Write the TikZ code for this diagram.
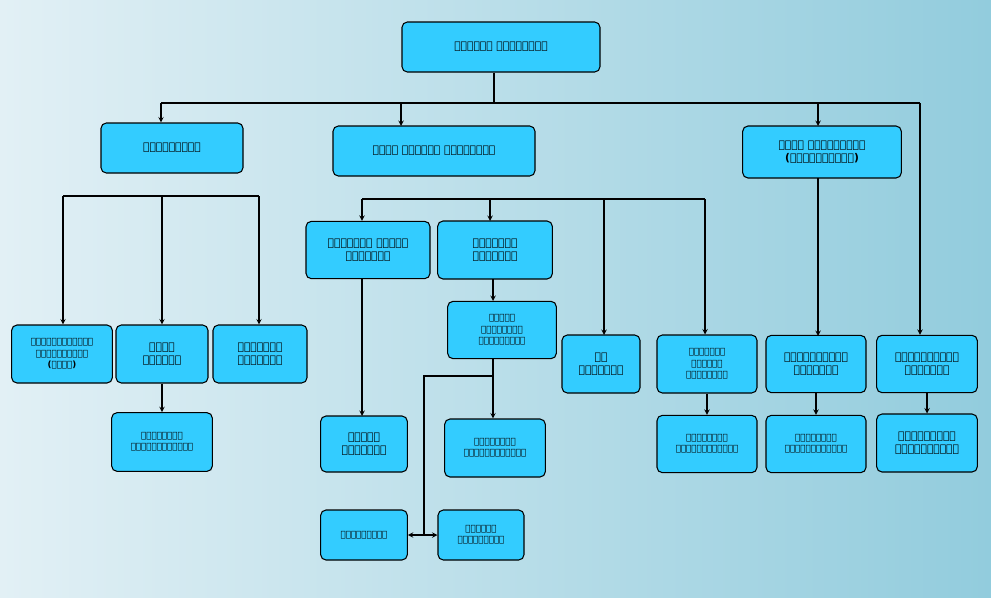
\documentclass[tikz,border=0pt]{standalone}
\usepackage{fontspec}
\newfontfamily\tamil{DejaVu Sans}
\definecolor{boxfill}{HTML}{33CCFF}
\definecolor{bgleft}{HTML}{E2F0F5}
\definecolor{bgright}{HTML}{92CCDD}
\begin{document}
\begin{tikzpicture}[x=0.75pt, y=-0.75pt,
  box/.style={draw=black, thick, fill=boxfill, rounded corners=4pt, align=center,
    font=\tamil\fontsize{8}{10}\selectfont\bfseries, inner sep=1pt},
  sbox/.style={box, font=\tamil\fontsize{6.5}{8.5}\selectfont\bfseries},
  arr/.style={->, >=stealth, thick, draw=black},
  ln/.style={-, thick, draw=black}]
\shade[left color=bgleft, right color=bgright] (0,0) rectangle (991,597);
\useasboundingbox (0,0) rectangle (991,597);
% top levels
\node[box, minimum width=148.5pt, minimum height=37.5pt] (top) at (501,47) {பிரதேச செயலாளர்};
\node[box, minimum width=106.5pt, minimum height=37.5pt] (acc) at (172,148) {கணக்காளர்};
\node[box, minimum width=151.5pt, minimum height=37.5pt] (adsec) at (434,151) {உதவி பிரதேச செயலாளர்};
\node[box, minimum width=119pt, minimum height=39pt] (addir) at (822,152) {உதவி இயக்குநர்\\(திட்டமிடல்)};
% accountant branch
\node[sbox, minimum width=75.5pt, minimum height=43.5pt] (prog) at (62,354) {புரோகிராமிங்\\அசிஸ்டன்ட்\\(நிதி)};
\node[box, minimum width=69pt, minimum height=43.5pt] (fin) at (162,354) {நிதி\\உதவியா};
\node[box, minimum width=70.5pt, minimum height=43.5pt] (pen) at (260,354) {பென்ஷன்\\அதிகாரி};
\node[sbox, minimum width=75.5pt, minimum height=44pt] (finma) at (162,442) {மேலாண்மை\\உதவியாளர்கள்};
% assistant secretary branch
\node[box, minimum width=93pt, minimum height=43pt] (gnadm) at (368,250) {நிருவாக கிராம\\நிலாதரி};
\node[box, minimum width=86pt, minimum height=43.5pt] (admo) at (495,250) {நிருவாக\\அலுவலர்};
\node[sbox, minimum width=81.5pt, minimum height=43pt] (chief) at (502,330) {தலைமை\\மேலாண்மை\\உகவியாளர்};
\node[box, minimum width=65pt, minimum height=42pt] (gn) at (364,444) {கிராம\\நிலாதரி};
\node[sbox, minimum width=75.5pt, minimum height=43.5pt] (chma) at (495,448) {மேலாண்மை\\உதவியாளர்கள்};
\node[sbox, minimum width=65pt, minimum height=37.5pt] (drv) at (364,535) {இயக்கிகள்};
\node[sbox, minimum width=64.5pt, minimum height=37.5pt] (off) at (481,535) {அலுவலக\\உதவியாளர்};
\node[box, minimum width=58.5pt, minimum height=43.5pt] (field) at (601,364) {கள\\அதிகாரி};
\node[sbox, minimum width=75pt, minimum height=43.5pt] (reg) at (707,364) {கூடுதல்\\மாவட்ட\\பதிவாளர்};
\node[sbox, minimum width=75pt, minimum height=43pt] (regma) at (707,444) {மேலாண்மை\\உதவியாளர்கள்};
% director branch
\node[box, minimum width=75pt, minimum height=43pt] (dev) at (816,364) {மேம்பாட்டு\\அதிகாரி};
\node[sbox, minimum width=75pt, minimum height=43pt] (devma) at (816,444) {மேலாண்மை\\உதவியாளர்கள்};
\node[box, minimum width=75.5pt, minimum height=43pt] (sam) at (927,364) {சாமுர்த்தி\\மேலாளர்};
\node[box, minimum width=75.5pt, minimum height=43.5pt] (samo) at (927,443) {சமுர்த்தி\\அதிகாரிகள்};
% bus points
\coordinate (b1) at (494,103);
\coordinate (bl) at (161,103);
\coordinate (br) at (920,103);
\coordinate (k1) at (63,196);
\coordinate (k2) at (259,196);
\coordinate (a1) at (362,199);
\coordinate (a2) at (705,199);
\coordinate (c1) at (493,376);
\coordinate (c2) at (424,376);
\coordinate (c3) at (424,535);
% connectors
\draw[ln] (top.south -| b1) -- (b1);
\draw[ln] (bl) -- (br);
\draw[arr] (bl) -- (bl |- acc.north);
\draw[arr] (401,103) -- (401,126);
\draw[arr] (818,103) -- (818,126);
\draw[arr] (br) -- (br |- sam.north);
\draw[ln] (k1) -- (k2);
\draw[arr] (k1) -- (k1 |- prog.north);
\draw[arr] (162,196) -- (fin.north);
\draw[arr] (k2) -- (k2 |- pen.north);
\draw[arr] (fin) -- (finma);
\draw[ln] (a1) -- (a2);
\draw[arr] (a1) -- (a1 |- gnadm.north);
\draw[arr] (490,199) -- (490,221);
\draw[arr] (604,199) -- (604 ,335);
\draw[arr] (a2) -- (a2 |- reg.north);
\draw[arr] (362,279) -- (362,416);
\draw[arr] (493,279) -- (493,301);
\draw[arr] (c1 |- chief.south) -- (c1 |- chma.north);
\draw[ln] (c1) -- (c2) -- (c3);
\draw[arr] (c3) -- (drv.east);
\draw[arr] (c3) -- (off.west);
\draw[arr] (818,178) -- (818,336);
\draw[arr] (reg) -- (regma);
\draw[arr] (dev) -- (devma);
\draw[arr] (sam) -- (samo);
\end{tikzpicture}
\end{document}
